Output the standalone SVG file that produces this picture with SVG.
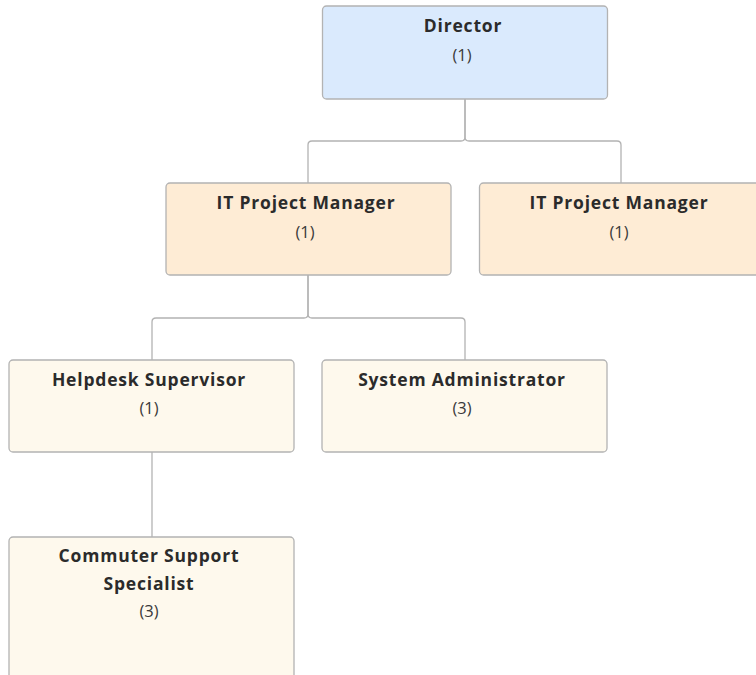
<svg xmlns="http://www.w3.org/2000/svg" width="756" height="675" viewBox="0 0 756 675">
<style>
.box{stroke:#b3b3b3;stroke-width:1.3}
.l0{fill:#daeafd}
.l1{fill:#feecd5}
.l2{fill:#fef9ed}
.t{font-family:"Open Sans","Liberation Sans",sans-serif;font-weight:700;font-size:17.5px;letter-spacing:0.8px;fill:#2b2b2b;text-anchor:middle}
.n{font-family:"Open Sans","Liberation Sans",sans-serif;font-weight:400;font-size:16.5px;fill:#3a3a3a;text-anchor:middle}
.c{fill:none;stroke:#b3b3b3;stroke-width:1.3}
</style>
<rect width="756" height="675" fill="#fff"/>
<g id="connectors">
<path class="c" d="M465 99 V137 Q465 141 461 141 H312 Q308 141 308 145 V183"/>
<path class="c" d="M465 99 V137 Q465 141 469 141 H617 Q621 141 621 145 V183"/>
<path class="c" d="M308 275 V314 Q308 318 304 318 H156 Q152 318 152 322 V360"/>
<path class="c" d="M308 275 V314 Q308 318 312 318 H461 Q465 318 465 322 V360"/>
<path class="c" d="M152 452 V537"/>
</g>
<g id="director">
<rect class="box l0" x="322.5" y="6" width="285" height="93" rx="4"/>
<text class="t" x="463" y="32">Director</text>
<text class="n" x="462" y="61">(1)</text>
</g>
<g id="itpm1">
<rect class="box l1" x="166" y="183" width="285" height="92" rx="4"/>
<text class="t" x="306" y="209">IT Project Manager</text>
<text class="n" x="305" y="238">(1)</text>
</g>
<g id="itpm2">
<rect class="box l1" x="479.5" y="183" width="285" height="92" rx="4"/>
<text class="t" x="619" y="209">IT Project Manager</text>
<text class="n" x="619" y="238">(1)</text>
</g>
<g id="helpdesk">
<rect class="box l2" x="9" y="360" width="285" height="92" rx="4"/>
<text class="t" x="149" y="386">Helpdesk Supervisor</text>
<text class="n" x="149" y="414">(1)</text>
</g>
<g id="sysadmin">
<rect class="box l2" x="322" y="360" width="285" height="92" rx="4"/>
<text class="t" x="462" y="386">System Administrator</text>
<text class="n" x="462" y="414">(3)</text>
</g>
<g id="commuter">
<rect class="box l2" x="9" y="537" width="285" height="150" rx="4"/>
<text class="t" x="149" y="562">Commuter Support</text>
<text class="t" x="149" y="590">Specialist</text>
<text class="n" x="149" y="617">(3)</text>
</g>
</svg>
